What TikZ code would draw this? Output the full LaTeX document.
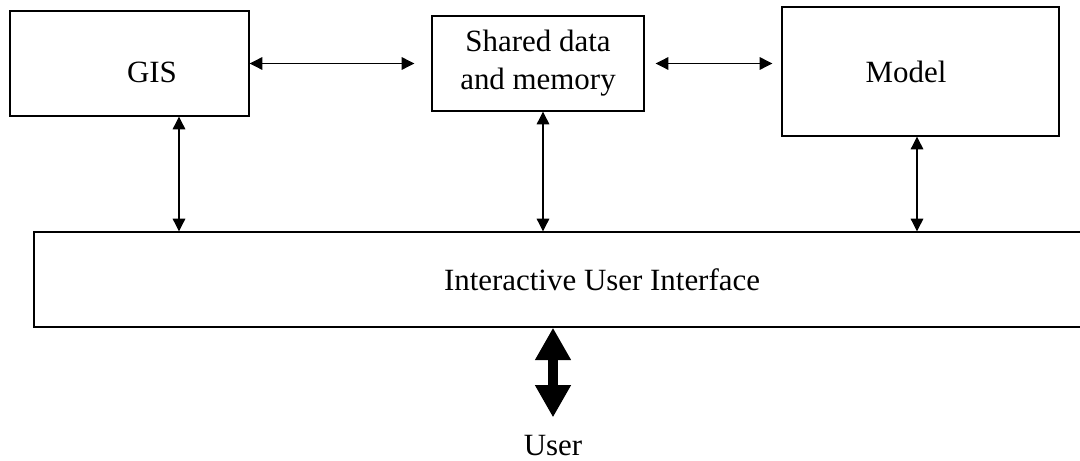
\documentclass[tikz,border=0pt]{standalone}
\usepackage{fontspec}
\setmainfont{Liberation Serif}
\usetikzlibrary{arrows.meta,positioning,calc}

\begin{document}
\begin{tikzpicture}[
      box/.style={rectangle, draw, line width=1pt, inner sep=0pt, align=center,
                  font=\fontsize{22}{27}\selectfont},
      txt/.style={inner sep=0pt, font=\fontsize{22}{27}\selectfont},
      arrow/.style={{Triangle[length=9pt,width=9pt]}-{Triangle[length=9pt,width=9pt]}, line width=0.8pt},
      bigarrow/.style={{Triangle[length=23pt,width=24pt]}-{Triangle[length=23pt,width=24pt]}, line width=7.8pt},
    ]
    \useasboundingbox (0,0) rectangle (27,-11.525);

    \node[box, minimum width=5.975cm, minimum height=2.625cm] (gis)    at (3.2375, -1.5875) {};
    \node[box, minimum width=5.3cm,   minimum height=2.375cm] (shared) at (13.45, -1.5875)  {Shared data\\and memory};
    \node[box, minimum width=6.925cm, minimum height=3.225cm] (model)  at (23.0125, -1.7875) {};
    \node[box, minimum width=28.4cm,  minimum height=2.375cm] (ui)     at (15.05, -6.9875)  {Interactive User Interface};
    \node[txt] (gistext)   at (3.8, -1.82)   {GIS};
    \node[txt] (modeltext) at (22.65, -1.8)  {Model};
    \node[txt] (user) at (13.825, -11.15) {User};

    \draw[arrow, shorten >=0.425cm] (gis.east) -- (shared.west);
    \draw[arrow, shorten <=0.275cm, shorten >=0.225cm] (shared.east) -- (model.west |- shared.east);

    % links down to the interface
    \draw[arrow] ([xshift=1.2375cm]gis.south) -- ([xshift=1.2375cm]gis.south |- ui.north);
    \draw[arrow] ([xshift=0.125cm]shared.south) -- ([xshift=0.125cm]shared.south |- ui.north);
    \draw[arrow] ([xshift=-0.0875cm]model.south) -- ([xshift=-0.0875cm]model.south |- ui.north);

    \draw[bigarrow, shorten >=0.45cm] (ui.south -| user.north) -- (user.north);
  \end{tikzpicture}
\end{document}
